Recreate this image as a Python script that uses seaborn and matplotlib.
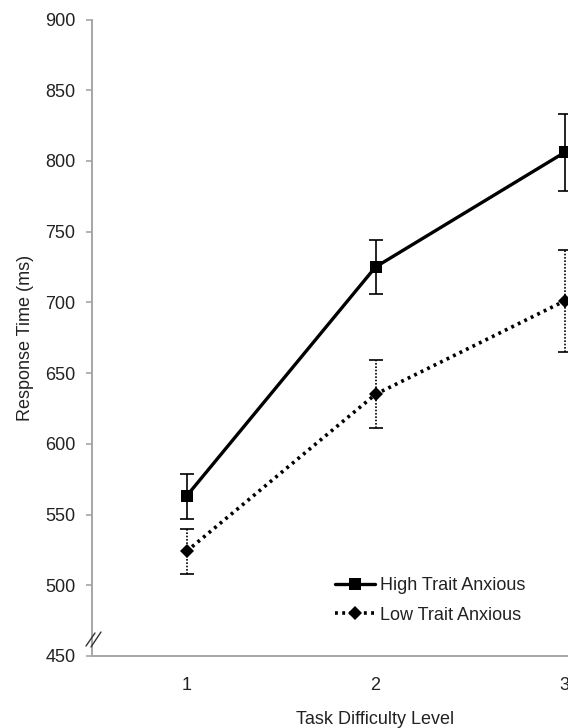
import matplotlib
matplotlib.use("Agg")
import matplotlib.pyplot as plt
from matplotlib.lines import Line2D
import pandas as pd
import seaborn as sns

# values
levels = [1, 2, 3]
high_mean = [563, 725, 806]
high_err = [16, 19, 27]
low_mean = [524, 635, 701]
low_err = [16, 24, 36]
y_ticks = [450, 500, 550, 600, 650, 700, 750, 800, 850, 900]

W, H = 568, 728
GREY = "#a6a6a6"

sns.set_style("white")
plt.rcParams["font.family"] = ["Liberation Sans", "DejaVu Sans"]
plt.rcParams["font.size"] = 13

df = pd.DataFrame({
    "level": levels * 2,
    "rt": high_mean + low_mean,
    "group": ["High Trait Anxious"] * 3 + ["Low Trait Anxious"] * 3,
})

fig = plt.figure(figsize=(W / 100, H / 100), dpi=100)
# plot area runs past the right edge of the picture, like the source
ax = fig.add_axes([92 / W, 1 - 656 / H, (659 - 92) / W, (656 - 19.5) / H])

hi = df[df["group"] == "High Trait Anxious"]
lo = df[df["group"] == "Low Trait Anxious"]

ax.errorbar(levels, high_mean, yerr=high_err, fmt="none", ecolor="black",
            elinewidth=1.2, capsize=5, capthick=1.2, zorder=2)
eb = ax.errorbar(levels, low_mean, yerr=low_err, fmt="none", ecolor="black",
                 elinewidth=1.2, capsize=5, capthick=1.2, zorder=2)
for lc in eb[2]:
    lc.set_linestyle((0, (1, 1)))

sns.lineplot(data=hi, x="level", y="rt", ax=ax, color="black", linewidth=2.4,
             marker="s", markersize=9, markeredgewidth=0, errorbar=None,
             zorder=3)
sns.lineplot(data=lo, x="level", y="rt", ax=ax, color="black", linewidth=2.6,
             linestyle=(0, (0.8, 1.2)), marker="D", markersize=7,
             markeredgewidth=0, errorbar=None, zorder=3)

ax.set_xlim(0.5, 3.5)
ax.set_ylim(450, 900)
ax.set_yticks(y_ticks)
ax.set_xticks(levels)
ax.set_xticks([0.5, 1.5, 2.5, 3.5], minor=True)
ax.tick_params(axis="x", which="major", length=0, pad=15, labelsize=13,
               labelcolor="#222222")
ax.tick_params(axis="x", which="minor", length=5, width=1.2, color="#555555",
               direction="out")
ax.tick_params(axis="y", length=4, width=1.2, color=GREY, direction="out",
               pad=8, labelsize=13, left=True, labelcolor="#222222")

for s in ["top", "right"]:
    ax.spines[s].set_visible(False)
for s in ["left", "bottom"]:
    ax.spines[s].set_color(GREY)
    ax.spines[s].set_linewidth(1.4)

ax.set_xlabel("Task Difficulty Level", fontsize=13, labelpad=12,
              color="#222222")
ax.set_ylabel("Response Time (ms)", fontsize=13, labelpad=8,
              color="#222222")

handles = [
    Line2D([], [], color="black", lw=2.4, marker="s", markersize=9,
           markeredgewidth=0),
    Line2D([], [], color="black", lw=2.6, linestyle=(0, (0.8, 1.2)),
           marker="D", markersize=7, markeredgewidth=0),
]
fig.legend(handles, ["High Trait Anxious", "Low Trait Anxious"],
           loc="upper left", bbox_to_anchor=(326 / W, 1 - 568 / H),
           frameon=False, fontsize=13, handlelength=2.2, handletextpad=0.3,
           labelspacing=0.7, borderpad=0, numpoints=1,
           labelcolor="#222222")

# axis break mark
for x0, y0, x1, y1 in [(86, 646, 95, 633), (91, 647, 101, 632)]:
    fig.add_artist(Line2D([x0 / W, x1 / W], [1 - y0 / H, 1 - y1 / H],
                          transform=fig.transFigure, color="#333333", lw=1.0))

fig.savefig("out.png", dpi=100)
